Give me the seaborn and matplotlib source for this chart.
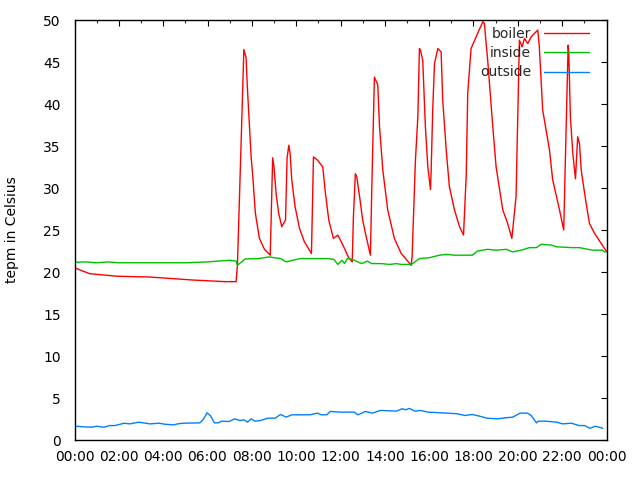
import numpy as np
import pandas as pd
import matplotlib
matplotlib.use("Agg")
import matplotlib.pyplot as plt
import seaborn as sns
from matplotlib.lines import Line2D
from matplotlib.ticker import MultipleLocator

# ---------------- data ----------------
boiler_hours = [0, 0.68, 1.9, 3.4, 5.3, 6.8, 7.29, 7.35, 7.52, 7.64, 7.74, 7.8, 7.97, 8.04, 8.16,
                8.34, 8.57, 8.83, 8.94, 9.0, 9.1, 9.21, 9.35, 9.52, 9.59, 9.67, 9.73, 9.8, 9.95,
                10.15, 10.37, 10.69, 10.78, 10.97, 11.2, 11.31, 11.47, 11.68, 11.88, 12.07, 12.18,
                12.37, 12.53, 12.58, 12.67, 12.73, 12.86, 13.0, 13.16, 13.35, 13.41, 13.53, 13.68,
                13.76, 13.91, 14.13, 14.43, 14.74, 15.19, 15.23, 15.38, 15.49, 15.56, 15.61, 15.71,
                15.83, 15.94, 16.06, 16.09, 16.16, 16.24, 16.39, 16.54, 16.61, 16.77, 16.91, 17.14,
                17.37, 17.55, 17.67, 17.74, 17.89, 18.12, 18.42, 18.49, 18.64, 18.87, 19.02, 19.32,
                19.54, 19.73, 19.92, 20.07, 20.19, 20.3, 20.45, 20.6, 20.9, 20.97, 21.12, 21.43,
                21.57, 21.88, 22.07, 22.18, 22.27, 22.3, 22.37, 22.48, 22.6, 22.7, 22.78, 22.86,
                23.08, 23.23, 23.46, 23.91, 24.0]
boiler_temp = [20.5, 19.8, 19.5, 19.4, 19.05, 18.85, 18.85, 20.8, 35.7, 46.5, 45.5, 41.9, 33.6, 31.5, 27,
               24, 22.7, 22, 33.6, 32.5, 29.2, 27, 25.4, 26.2, 33.6, 35.1, 34, 31, 27.8,
               25.2, 23.6, 22.2, 33.7, 33.3, 32.5, 29.6, 26.2, 24, 24.4, 23.4, 22.8,
               21.7, 21.2, 26.4, 31.7, 31.4, 29, 26.2, 24.2, 22, 29.8, 43.2, 42.3,
               37.3, 32.1, 27.4, 24, 22.2, 20.8, 21.8, 33.3, 38.5, 46.6, 46.4, 45.2,
               37.3, 32.5, 29.8, 32.1, 39.3, 44.8, 46.6, 46.2, 40.5, 34.5, 30.2, 27.4,
               25.4, 24.4, 31.4, 41.3, 46.6, 48.0, 49.8, 49.6, 45.2, 37.3, 32.5, 27.4,
               25.8, 24.0, 29, 47.6, 46.8, 47.8, 47.2, 48, 48.8, 46.8, 39.3, 34.5,
               31, 27.4, 25, 37.3, 47, 46, 38.5, 34.1, 31.1, 36.1, 35.3, 32.1,
               28.2, 25.8, 24.6, 22.8, 22.5]

inside_hours = [0, 0.5, 1.0, 1.5, 2.0, 3.0, 4.0, 5.0, 6.0, 6.5, 7.0, 7.29, 7.35, 7.7, 8.3, 8.8, 9.0,
                9.3, 9.55, 9.85, 10.2, 11.4, 11.7, 11.88, 12.07, 12.18, 12.31, 12.54, 12.95, 13.22,
                13.4, 13.85, 14.21, 14.52, 14.75, 15.2, 15.56, 16.01, 16.46, 16.78, 17.14, 17.95,
                18.18, 18.63, 19.03, 19.49, 19.76, 20.16, 20.52, 20.84, 21.06, 21.52, 21.74, 22.46,
                22.78, 23.36, 23.82, 23.91, 24.0]
inside_temp = [21.15, 21.2, 21.1, 21.2, 21.1, 21.1, 21.1, 21.1, 21.2, 21.3, 21.4, 21.3, 20.8, 21.55, 21.6,
               21.8, 21.7, 21.6, 21.2, 21.4, 21.6, 21.6, 21.5, 20.9, 21.4, 21.0, 21.6, 21.5, 21.0,
               21.3, 21.0, 21.0, 20.9, 21.0, 20.9, 20.9, 21.6, 21.7, 22.0, 22.1, 22.0, 22.0, 22.5,
               22.7, 22.6, 22.7, 22.4, 22.6, 22.9, 22.9, 23.3, 23.2, 23.0, 22.9, 22.9, 22.6, 22.6,
               22.4, 22.4]

outside_hours = [0, 0.75, 1.0, 1.33, 1.58, 1.83, 2.24, 2.49, 2.91, 3.4, 3.82, 4.07, 4.48, 4.65, 4.9,
                 5.65, 5.81, 5.98, 6.15, 6.31, 6.48, 6.64, 6.98, 7.22, 7.47, 7.64, 7.81, 7.97, 8.14,
                 8.39, 8.72, 9.05, 9.3, 9.55, 9.8, 10.13, 10.63, 10.96, 11.13, 11.38, 11.54, 11.96,
                 12.62, 12.79, 13.12, 13.45, 13.79, 14.53, 14.78, 14.95, 15.11, 15.36, 15.61, 15.94,
                 16.78, 17.27, 17.61, 17.94, 18.27, 18.6, 19.1, 19.43, 19.77, 20.1, 20.43, 20.6,
                 20.84, 20.93, 21.26, 21.76, 22.01, 22.42, 22.76, 23.01, 23.25, 23.5, 23.83]
outside_temp = [1.64, 1.52, 1.64, 1.52, 1.72, 1.72, 2.0, 1.92, 2.12, 1.92, 2.0, 1.88, 1.8, 1.92, 2.0,
                2.04, 2.44, 3.24, 2.84, 2.04, 2.04, 2.24, 2.2, 2.52, 2.32, 2.4, 2.12, 2.52, 2.24,
                2.32, 2.6, 2.6, 3.04, 2.72, 3.0, 3.0, 3.0, 3.2, 3.0, 3.0, 3.4, 3.32,
                3.32, 3.0, 3.4, 3.2, 3.52, 3.44, 3.72, 3.6, 3.76, 3.44, 3.52, 3.32,
                3.2, 3.12, 2.92, 3.04, 2.84, 2.6, 2.52, 2.64, 2.72, 3.2, 3.2, 2.92,
                2.04, 2.24, 2.24, 2.12, 1.92, 2.0, 1.72, 1.72, 1.4, 1.64, 1.4]

series_names = ["boiler", "inside", "outside"]
series_colors = ["#ff0000", "#00c000", "#0080ff"]
tick_hours = list(range(0, 25, 2))
tick_labels = ["00:00", "02:00", "04:00", "06:00", "08:00", "10:00", "12:00",
               "14:00", "16:00", "18:00", "20:00", "22:00", "00:00"]
y_label = "tepm in Celsius"

# ---------------- build frame ----------------
df = pd.concat([
    pd.DataFrame({"hour": boiler_hours, "temp": boiler_temp, "series": "boiler"}),
    pd.DataFrame({"hour": inside_hours, "temp": inside_temp, "series": "inside"}),
    pd.DataFrame({"hour": outside_hours, "temp": outside_temp, "series": "outside"}),
], ignore_index=True)

sns.set_theme(style="white")
plt.rcParams["font.family"] = ["DejaVu Sans"]

fig = plt.figure(figsize=(6.4, 4.8), dpi=100)
ax = fig.add_axes([74.5 / 640, 40 / 480, 532 / 640, 420 / 480])

palette = dict(zip(series_names, series_colors))
sns.lineplot(data=df, x="hour", y="temp", hue="series", palette=palette,
             estimator=None, sort=True, linewidth=1.0, ax=ax, legend=False)

ax.set_xlim(0, 24)
ax.set_ylim(0, 50)
ax.set_xticks(tick_hours)
ax.set_xticklabels(tick_labels)
ax.xaxis.set_minor_locator(MultipleLocator(1))
ax.set_yticks(np.arange(0, 51, 5))
ax.set_xlabel("")
ax.set_ylabel(y_label, fontsize=10, color="black", labelpad=17)

ax.tick_params(axis="both", which="major", direction="in", length=4.5, width=0.8,
               top=True, right=True, labelsize=10, colors="black")
ax.tick_params(axis="y", which="major", pad=10)
ax.tick_params(axis="x", which="major", pad=7)
ax.tick_params(axis="both", which="minor", direction="in", length=2.5, width=0.8,
               top=True, right=True)
for sp in ax.spines.values():
    sp.set_color("black")
    sp.set_linewidth(1.0)
ax.grid(False)

handles = [Line2D([0], [0], color=c, lw=1.0) for c in series_colors]
leg = ax.legend(handles, series_names, loc="upper right", bbox_to_anchor=(0.968, 0.983),
                frameon=False, markerfirst=False, handlelength=3.25, handletextpad=0.95,
                labelspacing=0.37, borderpad=0.0, borderaxespad=0.0, fontsize=10)

fig.savefig("out.png", dpi=100)
